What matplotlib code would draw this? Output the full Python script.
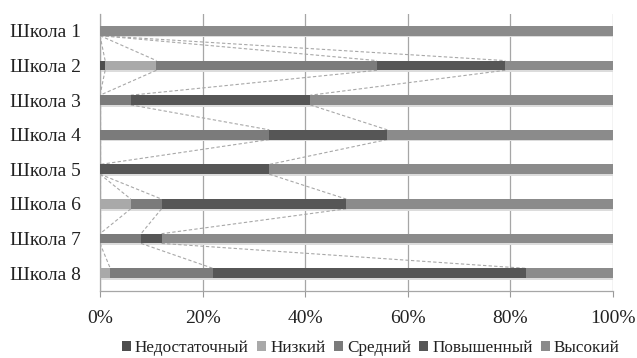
import matplotlib
matplotlib.use("Agg")
import matplotlib.pyplot as plt
import numpy as np
from matplotlib.ticker import FuncFormatter

plt.rcParams['font.family'] = ['Liberation Serif', 'DejaVu Serif']

schools = ["Школа 1", "Школа 2", "Школа 3", "Школа 4",
           "Школа 5", "Школа 6", "Школа 7", "Школа 8"]
levels = ["Недостаточный", "Низкий", "Средний", "Повышенный", "Высокий"]

# share of pupils (%) at each level, per school
nedostatochny = [0, 1, 0, 0, 0, 0, 0, 0]
nizky = [0, 10, 0, 0, 0, 6, 0, 2]
sredny = [0, 43, 6, 33, 0, 6, 8, 20]
povyshenny = [0, 25, 35, 23, 33, 36, 4, 61]
vysoky = [100, 21, 59, 44, 67, 52, 88, 17]

colors = ["#4d4d4d", "#a9a9a9", "#7b7b7b", "#565656", "#8b8b8b"]

data = np.array([nedostatochny, nizky, sredny, povyshenny, vysoky], dtype=float)
totals = data.sum(axis=0)
shares = data / totals
cum = np.cumsum(shares, axis=0)
starts = cum - shares

fig = plt.figure(figsize=(6.37, 3.58), dpi=100)
ax = fig.add_axes([100 / 637, 1 - 290.5 / 358, 513 / 637, (290.5 - 13.5) / 358])

y = np.arange(len(schools))
h = 0.28

for i, (lvl, col) in enumerate(zip(levels, colors)):
    # soft shadow under each segment
    ax.barh(y + 0.05, shares[i], left=starts[i], height=h, color="#dcdcdc",
            edgecolor="none", zorder=2)
for i, (lvl, col) in enumerate(zip(levels, colors)):
    ax.barh(y, shares[i], left=starts[i], height=h, color=col,
            edgecolor="none", label=lvl, zorder=3)

# series lines joining segment ends of neighbouring bars
for i in range(len(levels) - 1):
    for j in range(len(schools) - 1):
        ax.plot([cum[i, j], cum[i, j + 1]], [y[j] + h / 2, y[j + 1] - h / 2],
                color="#a8a8a8", lw=0.8, ls=(0, (3, 2)), zorder=2.5)

ax.set_xlim(0, 1)
ax.set_ylim(len(schools) - 0.5, -0.5)
ax.set_yticks(y)
ax.set_yticklabels(schools)
ax.set_xticks(np.linspace(0, 1, 6))
ax.xaxis.set_major_formatter(FuncFormatter(lambda v, p: f"{v * 100:.0f}%"))
ax.tick_params(axis="y", length=0, pad=14, labelsize=14, labelcolor="#222222")
ax.tick_params(axis="x", length=4, color="#999999", pad=10, labelsize=14,
               labelcolor="#222222")

ax.grid(axis="x", color="#a6a6a6", lw=0.9, zorder=0)
ax.set_axisbelow(True)
for s in ["top", "right"]:
    ax.spines[s].set_visible(False)
for s in ["left", "bottom"]:
    ax.spines[s].set_color("#a6a6a6")
    ax.spines[s].set_linewidth(0.9)

leg = fig.legend(*ax.get_legend_handles_labels(), loc="center",
                 bbox_to_anchor=(371 / 637, 1 - 348 / 358), ncol=5, frameon=False,
                 fontsize=12.3, handlelength=0.5, handleheight=0.55,
                 handletextpad=0.25, columnspacing=0.5, borderaxespad=0,
                 borderpad=0)
for t in leg.get_texts():
    t.set_color("#222222")

fig.savefig("out.png", dpi=100)
